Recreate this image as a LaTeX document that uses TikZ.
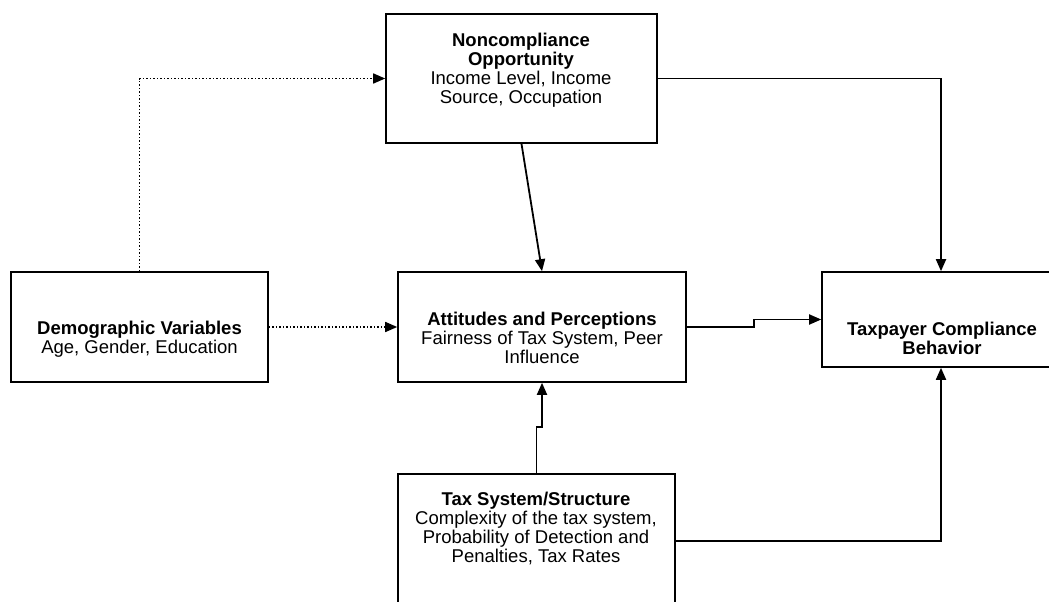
\documentclass[tikz,border=0pt]{standalone}
\usepackage{fontspec}
\setmainfont{Liberation Sans}
\usetikzlibrary{arrows.meta, calc}

\begin{document}
\begin{tikzpicture}[x=1pt, y=-1pt,
  box/.style={draw, line width=1.6pt, rectangle, inner sep=0pt},
  txt/.style={align=center, inner sep=0pt, font=\fontsize{18.5}{19}\selectfont},
  link/.style={line width=1.8pt, -{Triangle[length=12pt, width=10pt]}},
  dlink/.style={line width=1.5pt, dotted, -{Triangle[length=12pt, width=10pt]}}]
\clip (0,0) rectangle (1049,602);
\fill[white] (0,0) rectangle (1049,602);
\node[box, minimum width=271pt, minimum height=129pt] (opp) at (521.5,78.5) {};
\node[box, minimum width=257pt, minimum height=110pt] (demo) at (139.5,327) {};
\node[box, minimum width=288pt, minimum height=110pt] (att) at (542,327) {};
\node[box, minimum width=238pt, minimum height=95pt] (tcb) at (941,319.5) {};
\node[box, minimum width=277pt, minimum height=134pt] (tax) at (536.5,541) {};
\node[txt] (opptxt) at (521,70) {\textbf{Noncompliance}\\\textbf{Opportunity}\\Income Level, Income\\Source, Occupation};
\node[txt] (demotxt) at (139.5,339) {\textbf{Demographic Variables}\\Age, Gender, Education};
\node[txt] (atttxt) at (542,338) {\textbf{Attitudes and Perceptions}\\Fairness of Tax System, Peer\\Influence};
\node[txt] (tcbtxt) at (942,338) {\textbf{Taxpayer Compliance}\\\textbf{Behavior}};
\node[txt] (taxtxt) at (536,528) {\textbf{Tax System/Structure}\\Complexity of the tax system,\\Probability of Detection and\\Penalties, Tax Rates};
\draw[dlink] (demo.north) |- (opp.west);
\draw[dlink] (demo.east) -- (att.west);
\draw[link] (opp.south) -- (att.north);
\draw[link] (opp.east) -| (tcb.north);
\draw[link] (att.east) -- ++(67,0) |- (tcb.west);
\draw[link] (tax.north) -- ++(0,-46) -| (att.south);
\draw[link] (tax.east) -| (tcb.south);
\end{tikzpicture}
\end{document}
